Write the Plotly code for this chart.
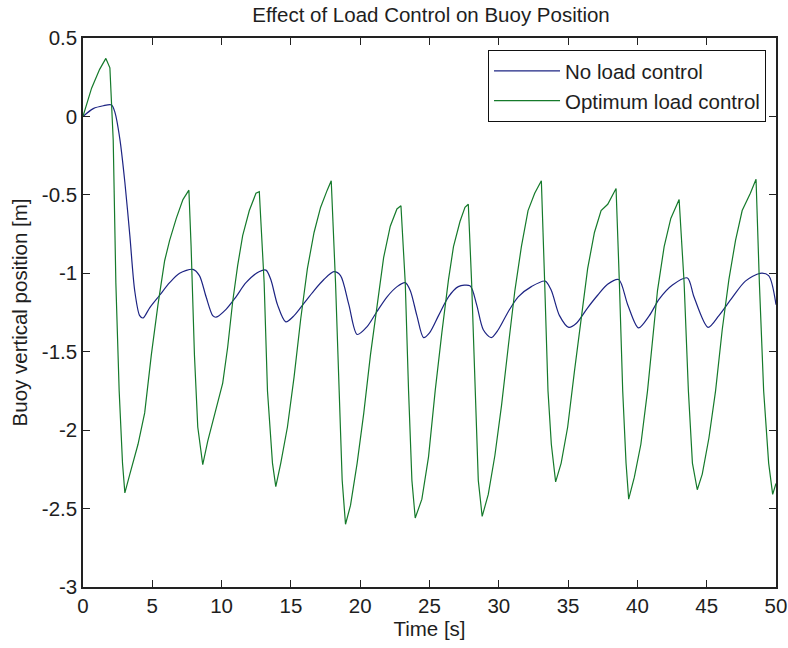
import plotly.graph_objects as go

# ---- data ----
t_opt = [0.0, 0.62, 1.2, 1.65, 1.94, 2.18, 2.37, 2.61, 2.85, 3.02,
         3.38, 3.97, 4.45, 4.93, 5.41, 5.89, 6.25, 6.73, 7.21, 7.64,
         7.8, 8.04, 8.28, 8.64,
         9.0, 9.6, 10.08, 10.44, 10.8, 11.16, 11.52, 12.0, 12.48, 12.72,
         13.07, 13.31, 13.67, 13.91,
         14.27, 14.75, 15.23, 15.71, 16.19, 16.67, 17.14, 17.62, 17.91,
         18.22, 18.46, 18.7, 18.94,
         19.3, 19.78, 20.26, 20.74, 21.21, 21.69, 22.17, 22.65, 22.94,
         23.25, 23.49, 23.73, 23.97,
         24.45, 24.93, 25.41, 25.89, 26.37, 26.73, 27.2, 27.56, 27.8,
         28.04, 28.28, 28.52, 28.8,
         29.24, 29.72, 30.2, 30.68, 31.16, 31.63, 32.11, 32.59, 33.07,
         33.31, 33.55, 33.79, 34.1,
         34.5, 34.97, 35.45, 35.93, 36.41, 36.9, 37.38, 37.86, 38.46,
         38.7, 38.94, 39.18, 39.37,
         39.78, 40.25, 40.73, 41.09, 41.45, 41.93, 42.41, 43.01,
         43.37, 43.68, 43.97, 44.32,
         44.68, 45.16, 45.64, 46.12, 46.6, 47.08, 47.56, 48.15, 48.56,
         48.8, 49.11, 49.47, 49.76, 50.0]
y_opt = [0.0, 0.18, 0.30, 0.37, 0.31, -0.15, -1.06, -1.75, -2.21, -2.40,
         -2.28, -2.09, -1.89, -1.52, -1.20, -0.92, -0.79, -0.65, -0.53, -0.47,
         -0.83, -1.52, -1.98, -2.22,
         -2.07, -1.86, -1.70, -1.47, -1.18, -0.95, -0.76, -0.60, -0.49, -0.48,
         -1.06, -1.75, -2.21, -2.36,
         -2.21, -1.98, -1.66, -1.29, -0.97, -0.74, -0.58, -0.47, -0.41,
         -1.06, -1.75, -2.32, -2.60,
         -2.48, -2.21, -1.89, -1.52, -1.20, -0.90, -0.70, -0.59, -0.57,
         -1.06, -1.75, -2.32, -2.56,
         -2.44, -2.17, -1.75, -1.38, -1.04, -0.83, -0.67, -0.58, -0.56,
         -1.06, -1.75, -2.32, -2.55,
         -2.41, -2.16, -1.84, -1.47, -1.11, -0.83, -0.60, -0.49, -0.41,
         -1.06, -1.75, -2.09, -2.33,
         -2.21, -1.98, -1.63, -1.29, -0.97, -0.74, -0.60, -0.56, -0.46,
         -1.06, -1.75, -2.21, -2.44,
         -2.30, -2.09, -1.75, -1.41, -1.11, -0.83, -0.65, -0.53,
         -1.06, -1.75, -2.21, -2.38,
         -2.28, -2.05, -1.75, -1.36, -1.04, -0.79, -0.60, -0.49, -0.40,
         -1.06, -1.75, -2.21, -2.41, -2.34]

t_none = [0.0, 0.74, 1.46, 2.06, 2.3, 2.66, 3.02, 3.38, 3.73, 4.09, 4.33,
          4.81, 5.53, 6.25, 6.97, 7.93, 8.4, 8.88, 9.36, 9.6,
          10.32, 11.04, 11.76, 12.7, 13.2, 13.55, 14.03, 14.63,
          15.23, 15.95, 16.67, 17.38, 18.1, 18.58, 19.18, 19.78,
          20.5, 21.2, 21.94, 22.66, 23.25, 23.61, 24.09, 24.57,
          25.0, 25.65, 26.37, 27.08, 27.92, 28.4, 28.88, 29.45,
          29.96, 30.68, 31.4, 32.35, 33.35, 33.79, 34.38, 35.05,
          35.58, 36.41, 37.13, 37.85, 38.65, 39.3, 40.08,
          40.86, 41.57, 42.53, 43.61, 44.08, 45.1,
          45.88, 46.84, 47.79, 48.85, 49.47, 50.0]
y_none = [0.0, 0.05, 0.068, 0.073, 0.027, -0.145, -0.42, -0.76, -1.11, -1.27, -1.285,
          -1.22, -1.14, -1.06, -1.0, -0.975, -1.015, -1.15, -1.27, -1.28,
          -1.23, -1.15, -1.06, -0.99, -0.98, -1.04, -1.20, -1.31,
          -1.27, -1.19, -1.11, -1.04, -0.99, -1.015, -1.20, -1.39,
          -1.34, -1.245, -1.15, -1.085, -1.06, -1.11, -1.27, -1.41,
          -1.38, -1.27, -1.15, -1.085, -1.08, -1.20, -1.36, -1.41,
          -1.36, -1.245, -1.15, -1.085, -1.05, -1.11, -1.27, -1.345,
          -1.32, -1.22, -1.14, -1.07, -1.04, -1.20, -1.348,
          -1.27, -1.165, -1.075, -1.03, -1.15, -1.345,
          -1.27, -1.155, -1.05, -1.0, -1.015, -1.2]

x_tick_vals = [0, 5, 10, 15, 20, 25, 30, 35, 40, 45, 50]
x_tick_labels = ["0", "5", "10", "15", "20", "25", "30", "35", "40", "45", "50"]
y_tick_vals = [-3, -2.5, -2, -1.5, -1, -0.5, 0, 0.5]
y_tick_labels = ["-3", "-2.5", "-2", "-1.5", "-1", "-0.5", "0", "0.5"]

series_names = ["No load control", "Optimum load control"]
title_text = "Effect of Load Control on Buoy Position"
x_title = "Time [s]"
y_title = "Buoy vertical position [m]"

FONT = "Liberation Sans, Arial, Helvetica, sans-serif"
TXT = "#1e1e1e"
FS = 20.5

fig = go.Figure()
fig.add_trace(go.Scatter(x=t_none, y=y_none, mode="lines", name=series_names[0],
                         line=dict(color="#1d2483", width=1.2, shape="spline", smoothing=0.8)))
fig.add_trace(go.Scatter(x=t_opt, y=y_opt, mode="lines", name=series_names[1],
                         line=dict(color="#157a2b", width=1.2)))

axis_common = dict(showgrid=False, zeroline=False, showline=True, linecolor="#222",
                   linewidth=1.5, mirror="ticks", ticks="inside", ticklen=7,
                   tickcolor="#222", tickwidth=1, ticklabeloverflow="allow",
                   automargin=False,
                   tickfont=dict(family=FONT, size=FS, color=TXT))

fig.update_layout(
    width=788, height=648,
    margin=dict(l=83, r=12, t=38, b=61),
    paper_bgcolor="white", plot_bgcolor="white",
    font=dict(family=FONT, size=FS, color=TXT),
    title=dict(text=title_text, x=0.547, xanchor="center", y=1 - 15 / 648,
               yref="container", yanchor="middle",
               font=dict(family=FONT, size=FS, color=TXT)),
    xaxis=dict(range=[0, 50], tickvals=x_tick_vals, ticktext=x_tick_labels,
               title=dict(text=x_title, standoff=0,
                          font=dict(family=FONT, size=FS, color=TXT)),
               **axis_common),
    yaxis=dict(range=[-3, 0.5], tickvals=y_tick_vals, ticktext=y_tick_labels,
               title=dict(text=y_title, standoff=9,
                          font=dict(family=FONT, size=FS, color=TXT)),
               **axis_common),
    legend=dict(x=0.9856, xanchor="right", y=0.978, yanchor="top",
                bgcolor="white", bordercolor="#111", borderwidth=1,
                font=dict(family=FONT, size=FS, color=TXT),
                itemwidth=66, tracegroupgap=0),
    showlegend=True,
)

fig.write_html("out.html")
